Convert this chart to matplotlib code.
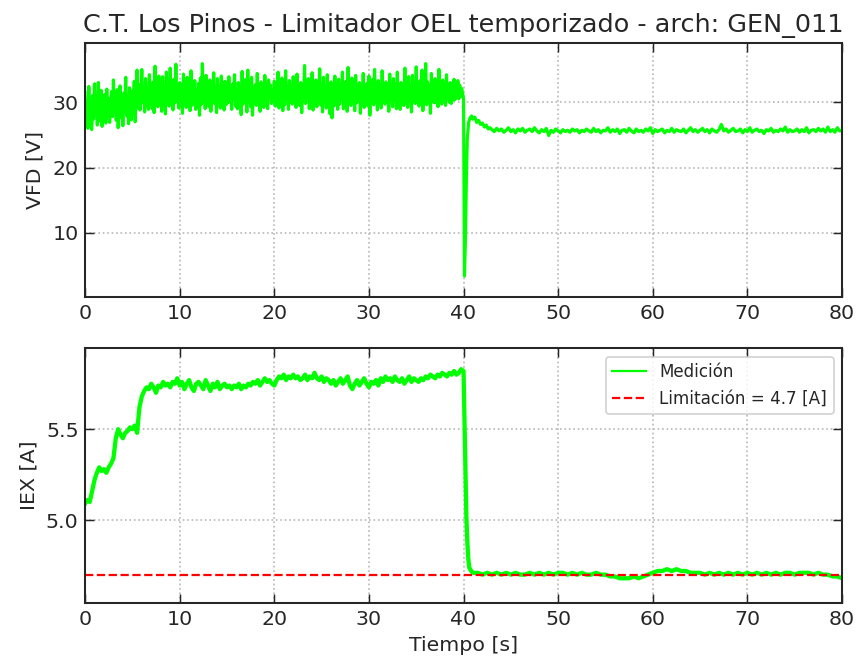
import numpy as np
import matplotlib
matplotlib.use("Agg")
import matplotlib.pyplot as plt

# VFD [V], 0.0 - 40.0 s every 0.1 s
vfd_pre = [
    31.5, 27.0, 30.2, 26.0, 32.4, 28.1, 29.5, 25.8, 31.0, 27.4,
    32.8, 28.0, 30.6, 26.5, 33.0, 29.2, 27.1, 31.8, 26.3, 30.0,
    28.4, 31.2, 26.8, 32.0, 27.5, 30.5, 26.9, 29.8, 31.6, 27.8,
    33.4, 28.9, 30.1, 27.2, 31.9, 26.1, 29.0, 32.5, 27.6, 30.8,
    26.4, 31.4, 28.6, 33.8, 27.9, 30.3, 26.7, 32.2, 29.4, 27.3,
    31.7, 28.2, 33.2, 27.0, 30.9, 34.9, 29.1, 32.7, 28.8, 31.3,
    35.0, 30.0, 32.3, 28.5, 33.6, 29.6, 31.8, 28.9, 34.2, 30.4,
    31.2, 29.0, 33.1, 28.4, 35.5, 30.2, 32.6, 29.3, 34.0, 30.8,
    32.4, 28.6, 33.9, 29.8, 31.5, 28.2, 34.6, 30.1, 32.8, 29.4,
    35.2, 30.6, 32.1, 28.8, 33.5, 29.9, 35.8, 30.3, 31.9, 29.1,
    33.0, 29.6, 32.5, 28.3, 34.3, 30.5, 31.7, 29.2, 33.8, 30.0,
    31.6, 28.7, 34.8, 29.5, 32.2, 30.7, 33.3, 28.9, 31.4, 30.2,
    32.9, 28.0, 33.7, 29.7, 35.9, 30.4, 32.0, 29.0, 34.1, 30.6,
    31.8, 29.3, 33.4, 28.6, 32.7, 30.1, 34.5, 29.8, 31.3, 28.4,
    33.6, 30.3, 32.3, 29.1, 34.0, 30.8, 31.9, 28.8, 33.2, 29.6,
    32.1, 29.9, 33.9, 30.2, 31.6, 28.9, 32.8, 30.5, 34.2, 29.4,
    31.5, 29.0, 33.0, 30.6, 32.4, 28.1, 34.7, 29.7, 31.2, 30.3,
    33.5, 28.5, 34.9, 30.0, 32.2, 29.3, 33.8, 28.0, 31.9, 30.8,
    32.7, 29.5, 34.4, 30.1, 31.7, 28.6, 33.1, 30.4, 32.3, 29.2,
    34.1, 30.7, 31.8, 29.0, 33.4, 30.9, 32.6, 29.8, 31.4, 30.2,
    33.2, 29.4, 32.0, 30.5, 34.6, 29.1, 31.5, 30.0, 33.7, 28.7,
    32.5, 29.6, 34.8, 30.3, 31.9, 28.9, 33.3, 30.8, 32.1, 29.7,
    33.9, 30.1, 32.8, 29.2, 34.3, 30.6, 31.6, 29.5, 33.0, 28.4,
    32.4, 30.2, 35.6, 29.8, 31.7, 30.9, 33.6, 29.0, 32.2, 30.4,
    34.5, 28.8, 32.9, 30.0, 33.4, 29.3, 31.8, 30.7, 35.1, 29.6,
    32.0, 28.5, 33.8, 30.3, 31.4, 29.1, 34.2, 30.5, 32.6, 28.2,
    33.1, 27.6, 32.3, 29.4, 34.0, 30.1, 31.5, 28.9, 33.5, 29.7,
    32.7, 30.4, 34.6, 29.0, 31.9, 30.8, 33.2, 28.6, 35.3, 30.0,
    31.6, 29.5, 33.7, 30.2, 32.4, 28.7, 34.1, 29.9, 31.3, 30.6,
    33.0, 28.3, 32.5, 30.1, 34.4, 29.2, 31.8, 30.7, 32.9, 29.4,
    34.0, 28.0, 32.2, 30.3, 33.5, 29.6, 35.0, 30.0, 31.7, 28.8,
    33.3, 30.5, 32.6, 29.1, 34.8, 30.2, 31.9, 29.7, 33.1, 30.9,
    32.0, 28.6, 34.3, 30.4, 31.5, 29.3, 33.6, 30.1, 32.8, 29.0,
    34.6, 30.6, 31.8, 28.9, 33.0, 30.0, 32.4, 29.5, 35.2, 30.3,
    31.6, 29.2, 33.9, 30.7, 32.3, 28.5, 34.1, 30.2, 31.9, 29.8,
    35.4, 30.1, 32.7, 29.4, 33.3, 30.6, 34.9, 28.7, 32.0, 30.4,
    35.9, 29.6, 33.1, 30.3, 32.5, 28.3, 34.4, 30.8, 31.7, 29.9,
    33.6, 30.0, 32.1, 29.3, 35.0, 30.5, 31.8, 29.7, 33.4, 30.2,
    32.6, 29.5, 34.2, 30.6, 31.9, 30.0, 33.0, 29.8, 32.4, 30.3,
    33.5, 30.4, 32.0, 31.0, 33.3, 30.5, 32.6, 30.9, 32.1, 31.4,
    30.5,
]

# VFD drop and recovery after the limiter acts
vfd_dip_t = [40.05, 40.1, 40.2, 40.3, 40.4, 40.55, 40.7, 40.85, 41.0, 41.2,
             41.4, 41.6, 41.8, 42.0, 42.2, 42.4, 42.6, 42.8]
vfd_dip = [16.0, 3.4, 9.0, 18.0, 24.5, 27.0, 27.6, 27.9, 27.4, 27.7,
           26.9, 27.2, 26.6, 26.8, 26.2, 26.5, 25.9, 26.1]

# VFD [V], 43.0 - 80.0 s every 0.25 s
vfd_post = [
    25.8, 25.5, 26.0, 25.6, 25.9, 25.4, 25.7, 26.1,
    25.5, 25.8, 25.3, 25.9, 25.6, 26.0, 25.4, 25.7,
    25.9, 25.5, 26.1, 25.6, 25.3, 25.8, 25.5, 26.0,
    24.9, 25.7, 25.4, 25.9, 25.6, 25.3, 25.8, 25.5,
    25.7, 25.4, 25.9, 25.6, 25.8, 25.3, 25.7, 25.5,
    25.9, 25.6, 25.4, 26.0, 25.5, 25.8, 25.3, 25.7,
    25.6, 26.1, 25.4, 25.8, 25.5, 25.9, 25.2, 25.7,
    25.8, 25.4, 26.0, 25.6, 25.3, 25.9, 25.5, 25.7,
    25.4, 25.9, 25.6, 26.1, 25.2, 25.8, 25.5, 25.7,
    25.9, 25.3, 25.7, 25.5, 26.0, 25.4, 25.8, 25.6,
    25.5, 25.9, 25.3, 25.7, 26.1, 25.5, 25.8, 25.4,
    25.7, 26.0, 25.5, 25.8, 25.3, 25.9, 25.6, 25.4,
    25.8, 26.6, 25.6, 25.9, 25.4, 25.7, 26.0, 25.5,
    25.6, 25.9, 25.3, 25.8, 25.5, 26.1, 25.4, 25.7,
    25.9, 25.5, 25.7, 25.2, 25.8, 25.6, 26.0, 25.4,
    25.7, 25.5, 25.9, 25.6, 26.2, 25.4, 25.8, 25.5,
    25.6, 25.9, 25.4, 25.8, 25.5, 26.1, 25.3, 25.7,
    25.8, 25.5, 26.0, 25.6, 25.9, 25.4, 26.2, 25.5,
    25.8, 25.4, 26.1, 25.6, 25.7,
]

# IEX [A], 0.0 - 40.0 s every 0.25 s
iex_pre = [
    5.09, 5.11, 5.10, 5.16, 5.22, 5.26, 5.29, 5.27, 5.28, 5.26,
    5.29, 5.31, 5.34, 5.45, 5.50, 5.47, 5.45, 5.48, 5.49, 5.51,
    5.50, 5.52, 5.48, 5.62, 5.68, 5.71, 5.73, 5.72, 5.75, 5.73,
    5.70, 5.74, 5.73, 5.76, 5.74, 5.75, 5.73, 5.76, 5.75, 5.78,
    5.74, 5.76, 5.72, 5.75, 5.77, 5.73, 5.71, 5.75,
    5.76, 5.74, 5.72, 5.77, 5.74, 5.71, 5.75, 5.73,
    5.76, 5.72, 5.74, 5.75, 5.73, 5.74, 5.72, 5.74,
    5.73, 5.75, 5.72, 5.74, 5.73, 5.75, 5.74, 5.76,
    5.75, 5.77, 5.74, 5.76, 5.78, 5.76, 5.77, 5.75,
    5.74, 5.77, 5.79, 5.78, 5.80, 5.77, 5.79, 5.78,
    5.80, 5.78, 5.79, 5.77, 5.78, 5.80, 5.77, 5.79,
    5.78, 5.81, 5.78, 5.77, 5.79, 5.76, 5.78, 5.77,
    5.75, 5.77, 5.74, 5.76, 5.78, 5.75, 5.77, 5.79,
    5.74, 5.72, 5.75, 5.77, 5.74, 5.76, 5.78, 5.75,
    5.73, 5.76, 5.75, 5.77, 5.74, 5.78, 5.76, 5.79,
    5.77, 5.78, 5.76, 5.79, 5.77, 5.76, 5.78, 5.75,
    5.77, 5.79, 5.76, 5.78, 5.77, 5.76, 5.78, 5.77,
    5.79, 5.78, 5.80, 5.79, 5.78, 5.80, 5.79, 5.81,
    5.80, 5.79, 5.81, 5.80, 5.82, 5.80, 5.81, 5.83,
    5.82,
]

iex_dip_t = [40.1, 40.2, 40.3, 40.4, 40.5, 40.6, 40.8, 41.0]
iex_dip = [5.55, 5.25, 5.02, 4.88, 4.79, 4.74, 4.72, 4.71]

# IEX [A], 41.5 - 80.0 s every 0.5 s
iex_post = [
    4.71, 4.70, 4.71, 4.70, 4.71, 4.70, 4.71, 4.70, 4.71, 4.70,
    4.70, 4.71, 4.70, 4.71, 4.70, 4.71, 4.70, 4.71, 4.71, 4.70,
    4.71, 4.70, 4.71, 4.70, 4.70, 4.71, 4.70, 4.70, 4.69, 4.69,
    4.68, 4.68, 4.68, 4.69, 4.68, 4.69, 4.70, 4.71, 4.72, 4.72,
    4.73, 4.72, 4.73, 4.72, 4.72, 4.71, 4.71, 4.71, 4.70, 4.71,
    4.70, 4.71, 4.70, 4.71, 4.70, 4.71, 4.70, 4.71, 4.70, 4.71,
    4.70, 4.71, 4.70, 4.71, 4.70, 4.71, 4.71, 4.70, 4.71, 4.71,
    4.71, 4.70, 4.71, 4.70, 4.70, 4.69, 4.69, 4.68,
]

limite_iex = 4.7

t_vfd = np.concatenate([np.linspace(0, 40, len(vfd_pre)), vfd_dip_t,
                        np.linspace(43, 80, len(vfd_post))])
vfd = np.concatenate([vfd_pre, vfd_dip, vfd_post])
t_iex = np.concatenate([np.linspace(0, 40, len(iex_pre)), iex_dip_t,
                        np.linspace(41.5, 80, len(iex_post))])
iex = np.concatenate([iex_pre, iex_dip, iex_post])

txt = '#262626'
plt.rcParams.update({
    'font.size': 11,
    'text.color': txt,
    'axes.labelcolor': txt,
    'xtick.color': txt,
    'ytick.color': txt,
    'xtick.direction': 'in',
    'ytick.direction': 'in',
    'xtick.top': True,
    'ytick.right': True,
    'xtick.major.size': 5,
    'ytick.major.size': 5,
    'axes.edgecolor': '#262626',
    'axes.linewidth': 1.1,
})

fig = plt.figure(figsize=(858 / 134, 663 / 134), dpi=134)
ax1 = fig.add_axes([0.0991, 0.5516, 0.8823, 0.3840])
ax2 = fig.add_axes([0.0991, 0.0905, 0.8823, 0.3842])

ax1.plot(t_vfd, vfd, color='#00ff00', lw=1.7)
ax1.set_xlim(0, 80)
ax1.set_ylim(0.15, 39.1)
ax1.set_yticks([10, 20, 30])
ax1.set_ylabel('VFD [V]')
ax1.set_title('C.T. Los Pinos - Limitador OEL temporizado - arch: GEN_011', fontsize=13.7)
ax1.grid(True, ls=':', color='#b8b8b8', lw=0.9)

ax2.plot(t_iex, iex, color='#00ff00', lw=2.3, label='Medición')
ax2.axhline(limite_iex, color='red', ls='--', lw=1.2,
            label='Limitación = %.1f [A]' % limite_iex)
ax2.set_xlim(0, 80)
ax2.set_ylim(4.544, 5.945)
ax2.set_yticks([5.0, 5.5])
ax2.set_ylabel('IEX [A]')
ax2.set_xlabel('Tiempo [s]')
ax2.grid(True, ls=':', color='#b8b8b8', lw=0.9)
leg = ax2.legend(loc='upper right', fontsize=9)
for h in leg.get_lines():
    h.set_linewidth(1.2)

for ax in (ax1, ax2):
    ax.set_xticks(range(0, 81, 10))

fig.savefig('out.png', dpi=134)
